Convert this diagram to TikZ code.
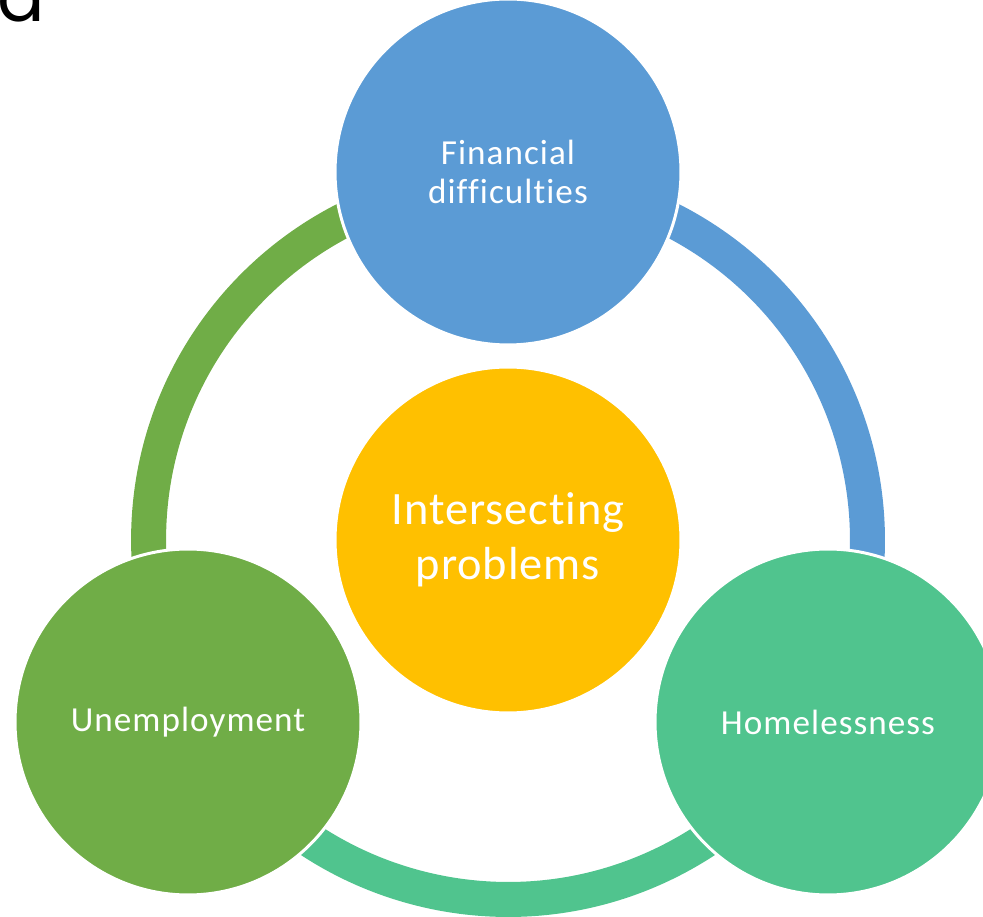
\documentclass[tikz,border=0pt]{standalone}
\usepackage{fontspec}
\setmainfont{Carlito}[Ligatures=NoCommon, RawFeature={-liga;-dlig}, LetterSpace=3]
\newfontfamily\bigfont{Carlito}[Ligatures=NoCommon, RawFeature={-liga;-dlig}, LetterSpace=2]
\newfontfamily\letterfont{Poppins}
\definecolor{cblue}{RGB}{91,155,213}
\definecolor{cgreen}{RGB}{112,173,71}
\definecolor{cteal}{RGB}{80,196,142}
\definecolor{cyellow}{RGB}{255,192,0}
\tikzset{
  bubble/.style={circle, draw=white, line width=1.7pt, minimum size=6.92cm, inner sep=0pt, text=white, align=center, font=\fontsize{20}{22.6}\selectfont},
  ring/.style={line width=0.7cm}
}
\begin{document}
\begin{tikzpicture}[x=0.02cm,y=0.02cm]
\useasboundingbox (0,0) rectangle (983,916);
\coordinate (c) at (508,376);
% ring segments
\draw[ring, cgreen] (c) ++(90:7.19cm) arc[start angle=90, end angle=209.6, radius=7.19cm];
\draw[ring, cteal] (c) ++(209.6:7.19cm) arc[start angle=209.6, end angle=330.4, radius=7.19cm];
\draw[ring, cblue] (c) ++(-29.6:7.19cm) arc[start angle=-29.6, end angle=90, radius=7.19cm];
% circles
\node[bubble, fill=cyellow, font=\bigfont\fontsize{26.4}{31.2}\selectfont] (center) at (c) {Intersecting\\problems};
\node[bubble, fill=cblue] (fin) at (508,744) {Financial\\difficulties};
\node[bubble, fill=cgreen] (unemp) at (188,194) {Unemployment};
\node[bubble, fill=cteal] (home) at (828,194) {Homelessness};
% clipped letter
\node[anchor=base west, inner sep=0pt, font=\letterfont\fontsize{40}{48}\selectfont] (lbl) at (-3,894) {a};
\end{tikzpicture}
\end{document}
